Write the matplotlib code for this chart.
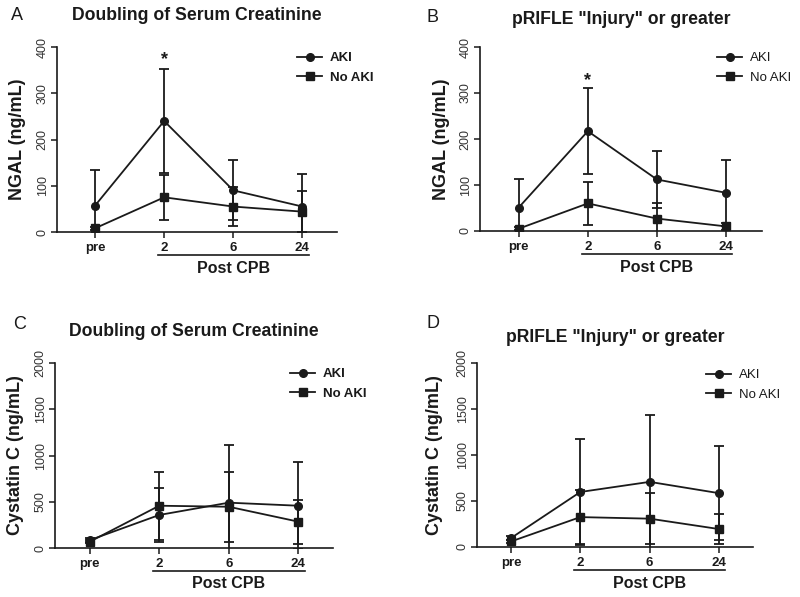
import matplotlib
matplotlib.use("Agg")
import matplotlib.pyplot as plt
from matplotlib.lines import Line2D
from matplotlib.transforms import blended_transform_factory

plt.rcParams['font.family'] = ['Liberation Sans', 'DejaVu Sans']

timepoints = ["pre", "2", "6", "24"]

# Panel A: NGAL, doubling of serum creatinine
a_aki_mean = [57, 240, 90, 55]
a_aki_sd = [78, 112, 65, 70]
a_noaki_mean = [8, 75, 55, 44]
a_noaki_sd = [3, 48, 43, 45]

# Panel B: NGAL, pRIFLE "Injury" or greater
b_aki_mean = [51, 217, 112, 83]
b_aki_sd = [61, 93, 62, 72]
b_noaki_mean = [5, 60, 27, 10]
b_noaki_sd = [3, 47, 33, 8]

# Panel C: Cystatin C, doubling of serum creatinine
c_aki_mean = [85, 357, 490, 457]
c_aki_sd = [20, 292, 623, 473]
c_noaki_mean = [68, 457, 446, 285]
c_noaki_sd = [15, 370, 380, 237]

# Panel D: Cystatin C, pRIFLE "Injury" or greater
d_aki_mean = [97, 598, 708, 585]
d_aki_sd = [25, 575, 732, 512]
d_noaki_mean = [60, 325, 308, 195]
d_noaki_sd = [15, 295, 280, 162]

titles = ["Doubling of Serum Creatinine", 'pRIFLE "Injury" or greater',
          "Doubling of Serum Creatinine", 'pRIFLE "Injury" or greater']
letters = ["A", "B", "C", "D"]
ylabels = ["NGAL (ng/mL)", "NGAL (ng/mL)", "Cystatin C (ng/mL)", "Cystatin C (ng/mL)"]
series_names = ["AKI", "No AKI"]
ymax = [400, 400, 2000, 2000]
ystep = [100, 100, 500, 500]
star_y = [372, 328, None, None]

W, H = 800, 597
fig = plt.figure(figsize=(W / 100, H / 100), dpi=100)

# axes boxes in pixel coords: left, right, top, bottom
boxes = [(57, 337, 47, 232), (480, 762, 47, 231), (55, 333, 363, 548), (477, 753, 363, 547)]
xlims = [(-0.55, 3.5), (-0.56, 3.52), (-0.5, 3.5), (-0.49, 3.49)]
title_pos = [(197, 16), (621, 19), (194, 332), (615, 338)]
letter_pos = [(17, 15), (433, 17), (20, 325), (433, 323)]
legend_pos = [(297, 52), (717, 52), (290, 368), (706, 369)]
legend_bold = [True, False, True, False]
ylabel_x = [18, 442, 15, 435]

data = [
    (a_aki_mean, a_aki_sd, a_noaki_mean, a_noaki_sd),
    (b_aki_mean, b_aki_sd, b_noaki_mean, b_noaki_sd),
    (c_aki_mean, c_aki_sd, c_noaki_mean, c_noaki_sd),
    (d_aki_mean, d_aki_sd, d_noaki_mean, d_noaki_sd),
]

col = "#1a1a1a"
for i in range(4):
    l, r, t, b = boxes[i]
    ax = fig.add_axes([l / W, (H - b) / H, (r - l) / W, (b - t) / H])
    x = list(range(len(timepoints)))
    am, asd, nm, nsd = data[i]
    ax.errorbar(x, am, yerr=asd, color=col, marker='o', markersize=5.5, lw=1.3,
                elinewidth=1.3, capsize=3.8, capthick=1.3, zorder=3)
    ax.errorbar(x, nm, yerr=nsd, color=col, marker='s', markersize=5.5, lw=1.3,
                elinewidth=1.3, capsize=3.8, capthick=1.3, zorder=3)
    ax.set_xlim(*xlims[i])
    ax.set_ylim(0, ymax[i])
    ax.set_yticks(range(0, ymax[i] + 1, ystep[i]))
    ax.set_xticks(x)
    ax.set_xticklabels(timepoints, fontsize=9.5, fontweight='bold', color=col)
    for lab in ax.get_yticklabels():
        lab.set_rotation(90)
        lab.set_va('center')
        lab.set_fontsize(9)
        lab.set_color('#333333')
    ax.tick_params(axis='both', direction='out', length=4, width=1.1, color=col, pad=2)
    ax.tick_params(axis='x', pad=3)
    for s in ['top', 'right']:
        ax.spines[s].set_visible(False)
    for s in ['left', 'bottom']:
        ax.spines[s].set_linewidth(1.2)
        ax.spines[s].set_color(col)
    ax.set_ylabel(ylabels[i], fontsize=13, fontweight='bold', color=col)
    ax.yaxis.label.set_va('center')
    ax.yaxis.set_label_coords((ylabel_x[i] - l) / (r - l), 0.5)

    # Post CPB underline and label
    hpx = b - t
    trans = blended_transform_factory(ax.transData, ax.transAxes)
    ax.plot([0.91, 3.09], [-22.5 / hpx, -22.5 / hpx], transform=trans, color=col,
            lw=1.2, clip_on=False)
    ax.text(2.0, -36 / hpx, "Post CPB", transform=trans, ha='center', va='center',
            fontsize=11.5, fontweight='bold', color=col)

    if star_y[i] is not None:
        ax.text(1, star_y[i], "*", ha='center', va='center', fontsize=13,
                fontweight='bold', color=col)

    handles = [Line2D([], [], color=col, marker='o', markersize=5.5, lw=1.3),
               Line2D([], [], color=col, marker='s', markersize=5.5, lw=1.3)]
    leg = ax.legend(handles, series_names, loc='upper left',
                    bbox_to_anchor=(legend_pos[i][0] / W, 1 - legend_pos[i][1] / H),
                    bbox_transform=fig.transFigure, frameon=False, fontsize=9.5,
                    handlelength=1.9, handletextpad=0.6, labelspacing=0.55, borderpad=0,
                    borderaxespad=0)
    for txt in leg.get_texts():
        txt.set_fontweight('bold' if legend_bold[i] else 'normal')
        txt.set_color(col)

    fig.text(title_pos[i][0] / W, 1 - title_pos[i][1] / H, titles[i], ha='center',
             va='center', fontsize=12.7, fontweight='bold', color=col)
    fig.text(letter_pos[i][0] / W, 1 - letter_pos[i][1] / H, letters[i], ha='center',
             va='center', fontsize=13, color=col)

fig.savefig("out.png", dpi=100, facecolor='white')
